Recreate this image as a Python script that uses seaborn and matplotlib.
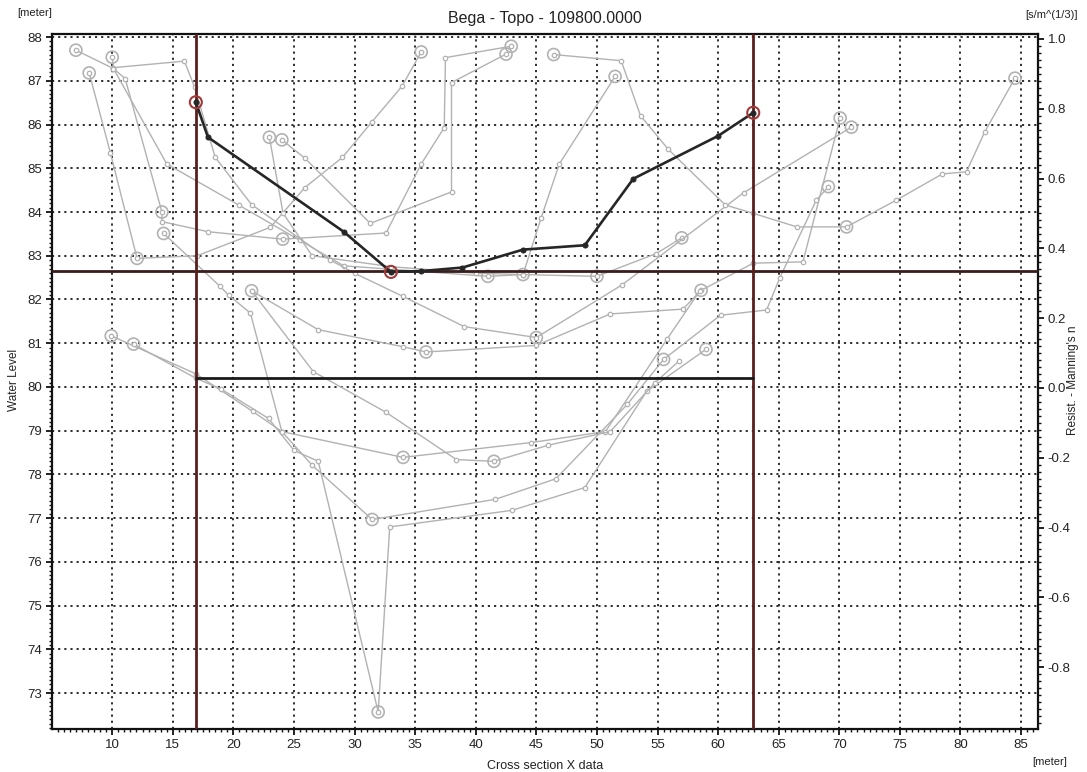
import numpy as np
import pandas as pd
import matplotlib
matplotlib.use("Agg")
import matplotlib.pyplot as plt
from matplotlib.ticker import MultipleLocator, FixedLocator
import seaborn as sns

# ---------------- data ----------------
title = "Bega - Topo - 109800.0000"

main_x = [16.9, 17.9, 29.1, 33.0, 35.5, 38.9, 43.9, 49.0, 53.0, 60.0, 62.9]
main_y = [86.51, 85.71, 83.55, 82.63, 82.65, 82.73, 83.14, 83.24, 84.76, 85.74, 86.27]
main_key = [1, 0, 0, 1, 0, 0, 0, 0, 0, 0, 1]

g1_x = [8.1, 9.85, 12.05, 17.0, 23.05, 25.9, 29.0, 31.4, 33.9, 35.5]
g1_y = [87.18, 85.35, 82.94, 83.0, 83.65, 84.56, 85.25, 86.05, 86.87, 87.66]
g1_key = [1, 0, 1, 0, 0, 0, 0, 0, 0, 1]

g2_x = [7.0, 10.1, 14.5, 20.5, 25.5, 29.1, 41.0, 43.9, 50.0, 54.9, 57.0]
g2_y = [87.7, 87.28, 85.1, 84.15, 83.35, 82.77, 82.53, 82.57, 82.53, 83.05, 83.41]
g2_key = [1, 0, 0, 0, 0, 0, 1, 0, 1, 0, 1]

g3_x = [10.0, 10.1, 15.96, 16.8, 18.5, 21.5, 28.0, 30.0, 34.0, 39.05, 45.0, 52.05, 62.1, 71.0]
g3_y = [87.54, 87.3, 87.45, 86.85, 85.25, 84.17, 82.9, 82.6, 82.07, 81.38, 81.13, 82.33, 84.44, 85.94]
g3_key = [1, 0, 0, 0, 0, 0, 0, 0, 0, 0, 1, 0, 0, 1]

g4_x = [10.1, 11.07, 14.1, 14.1, 17.9, 24.07, 32.6, 35.5, 37.4, 37.5, 42.93]
g4_y = [87.28, 87.05, 84.0, 83.78, 83.55, 83.38, 83.52, 85.1, 85.93, 87.53, 87.79]
g4_key = [0, 0, 1, 0, 0, 1, 0, 0, 0, 0, 1]

g5_x = [24.0, 25.9, 31.3, 38.0, 38.0, 42.5]
g5_y = [85.65, 85.23, 83.74, 84.46, 86.96, 87.61]
g5_key = [1, 0, 0, 0, 0, 1]

g6_x = [22.97, 24.1, 26.5, 33.0, 40.0, 43.9, 45.4, 46.9, 51.5]
g6_y = [85.71, 83.97, 83.0, 82.75, 82.6, 82.57, 83.87, 85.1, 87.1]
g6_key = [1, 0, 0, 0, 0, 1, 0, 0, 1]

g7_x = [46.43, 52.0, 53.6, 55.9, 60.6, 62.9, 66.5, 70.6, 74.7, 78.5, 80.5, 82.0, 84.5]
g7_y = [87.6, 87.46, 86.2, 85.43, 84.16, 83.97, 83.66, 83.66, 84.27, 84.87, 84.92, 85.83, 87.06]
g7_key = [1, 0, 0, 0, 0, 0, 0, 1, 0, 0, 0, 0, 1]

g8_x = [21.5, 27.0, 34.0, 35.9, 45.0, 51.1, 57.1, 58.6, 62.9, 67.0, 70.07]
g8_y = [82.2, 81.31, 80.92, 80.8, 80.95, 81.67, 81.78, 82.21, 82.83, 82.86, 86.15]
g8_key = [1, 0, 0, 1, 0, 0, 0, 1, 0, 0, 1]

g9_x = [9.92, 16.9, 21.6, 24.0, 26.5, 31.45, 41.6, 46.6, 52.5, 55.5, 60.2, 64.0, 65.1, 68.1, 69.1]
g9_y = [81.17, 80.3, 79.44, 78.98, 78.21, 76.97, 77.43, 77.9, 79.6, 80.63, 81.64, 81.76, 82.5, 84.27, 84.58]
g9_key = [1, 0, 0, 0, 0, 1, 0, 0, 0, 1, 0, 0, 0, 0, 1]

g10_x = [11.76, 16.9, 19.0, 22.9, 25.0, 27.0, 31.95, 32.9, 43.0, 49.0, 54.1, 59.0]
g10_y = [80.98, 80.2, 79.95, 79.28, 78.55, 78.3, 72.57, 76.8, 77.18, 77.7, 79.9, 80.86]
g10_key = [1, 0, 0, 0, 0, 0, 1, 0, 0, 0, 0, 1]

g11_x = [14.24, 18.9, 19.6, 21.4, 24.0, 34.0, 44.6, 50.7, 55.8, 58.5]
g11_y = [83.51, 82.3, 82.1, 81.69, 78.98, 78.39, 78.73, 78.98, 81.1, 82.2]
g11_key = [1, 0, 0, 0, 0, 1, 0, 0, 0, 0]

g12_x = [21.5, 26.6, 32.6, 38.4, 41.5, 46.0, 51.1, 54.8, 56.8]
g12_y = [82.2, 80.35, 79.42, 78.34, 78.3, 78.67, 78.98, 80.1, 80.6]
g12_key = [0, 0, 0, 0, 1, 0, 0, 0, 0]

water_level = 82.65
lower_level = 80.2
bank_left = 16.9
bank_right = 62.9

x_ticks = [10, 15, 20, 25, 30, 35, 40, 45, 50, 55, 60, 65, 70, 75, 80, 85]
y_ticks = [73, 74, 75, 76, 77, 78, 79, 80, 81, 82, 83, 84, 85, 86, 87, 88]
n_ticks = [-0.8, -0.6, -0.4, -0.2, 0.0, 0.2, 0.4, 0.6, 0.8, 1.0]

profiles = [
    (g1_x, g1_y, g1_key), (g2_x, g2_y, g2_key), (g3_x, g3_y, g3_key),
    (g4_x, g4_y, g4_key), (g5_x, g5_y, g5_key), (g6_x, g6_y, g6_key),
    (g7_x, g7_y, g7_key), (g8_x, g8_y, g8_key), (g9_x, g9_y, g9_key),
    (g10_x, g10_y, g10_key), (g11_x, g11_y, g11_key), (g12_x, g12_y, g12_key),
]

# ---------------- style ----------------
sns.set_theme(style="white")
plt.rcParams['font.family'] = ['Liberation Sans', 'DejaVu Sans']

W, H = 1087, 772
fig = plt.figure(figsize=(W / 100, H / 100), dpi=100)
fig.patch.set_facecolor("white")
L, R, T, B = 52, 1038, 34, 729
ax = fig.add_axes([L / W, 1 - B / H, (R - L) / W, (B - T) / H])
ax.set_facecolor("white")

gray = "#b2b2b2"
for px, py, pk in profiles:
    sns.lineplot(x=px, y=py, sort=False, estimator=None, ax=ax, color=gray,
                 linewidth=1.0, marker="o", markersize=3.2,
                 markerfacecolor="white", markeredgecolor=gray,
                 markeredgewidth=0.9, zorder=3)
    kx = [x for x, k in zip(px, pk) if k]
    ky = [y for y, k in zip(py, pk) if k]
    sns.scatterplot(x=kx, y=ky, ax=ax, s=75, facecolor="none",
                    edgecolor=gray, linewidth=1.2, zorder=3)

# water level and bank markers
ax.axhline(water_level, color="#3a1c1c", linewidth=2.0, zorder=4)
ax.axvline(bank_left, color="#5a1e1e", linewidth=2.0, zorder=4)
ax.axvline(bank_right, color="#5a1e1e", linewidth=2.0, zorder=4)
sns.lineplot(x=[bank_left, bank_right], y=[lower_level, lower_level], ax=ax,
             color="#1a1a1a", linewidth=2.0, zorder=4)

# main profile
sns.lineplot(x=main_x, y=main_y, sort=False, estimator=None, ax=ax,
             color="#262626", linewidth=1.9, marker="o", markersize=3.6,
             markeredgecolor="#262626", zorder=5)
mkx = [x for x, k in zip(main_x, main_key) if k]
mky = [y for y, k in zip(main_y, main_key) if k]
sns.scatterplot(x=mkx, y=mky, ax=ax, s=75, facecolor="none",
                edgecolor="#a23a3a", linewidth=1.5, zorder=6)

ax.set_xlim(5.03, 86.4)
ax.set_ylim(72.18, 88.07)
ax.set_xlabel("")
ax.set_ylabel("")
ax.xaxis.set_major_locator(FixedLocator(x_ticks))
ax.yaxis.set_major_locator(FixedLocator(y_ticks))
ax.xaxis.set_minor_locator(MultipleLocator(0.5))
ax.yaxis.set_minor_locator(MultipleLocator(0.1))
ax.set_xticklabels([str(v) for v in x_ticks])
ax.set_yticklabels([str(v) for v in y_ticks])

ax.grid(True, which="major", color="#1e1e1e", linestyle=(0, (1.2, 2.2)),
        linewidth=1.3)
ax.set_axisbelow(True)
for s in ax.spines.values():
    s.set_color("#111111")
    s.set_linewidth(1.6)
ax.tick_params(axis="both", which="major", direction="out", length=4,
               width=1.3, color="#111111", labelsize=9.5, pad=3,
               left=True, bottom=True, labelcolor="#222222")
ax.tick_params(axis="both", which="minor", direction="out", length=2.5,
               width=1.0, color="#111111", left=True, bottom=True)

ax2 = ax.twinx()
ax2.set_ylim(-0.977, 1.014)
ax2.yaxis.set_major_locator(FixedLocator(n_ticks))
ax2.yaxis.set_minor_locator(MultipleLocator(0.02))
ax2.set_yticklabels([f"{v:.1f}" for v in n_ticks])
ax2.grid(False)
for s in ax2.spines.values():
    s.set_visible(False)
ax2.tick_params(axis="y", which="major", direction="out", length=4, width=1.3,
                color="#111111", labelsize=9.5, pad=3, right=True,
                labelcolor="#222222")
ax2.tick_params(axis="y", which="minor", direction="out", length=2.5,
                width=1.0, color="#111111", right=True)

# texts
fig.text(545 / W, 1 - 18 / H, title, ha="center", va="center", fontsize=11.5,
         color="#222222")
fig.text(35 / W, 1 - 13 / H, "[meter]", ha="center", va="center",
         fontsize=8, color="#222222")
fig.text(1052 / W, 1 - 15 / H, "[s/m^(1/3)]", ha="center", va="center",
         fontsize=8, color="#222222")
fig.text(14 / W, 1 - 380 / H, "Water Level", ha="center", va="center",
         rotation=90, fontsize=8.5, color="#222222")
fig.text(1073 / W, 1 - 380 / H, "Resist. - Manning's n", ha="center",
         va="center", rotation=90, fontsize=8.5, color="#222222")
fig.text(545 / W, 1 - 766 / H, "Cross section X data", ha="center",
         va="center", fontsize=9, color="#222222")
fig.text(1050 / W, 1 - 762 / H, "[meter]", ha="center", va="center",
         fontsize=8, color="#222222")

fig.savefig("out.png", dpi=100, facecolor="white")
